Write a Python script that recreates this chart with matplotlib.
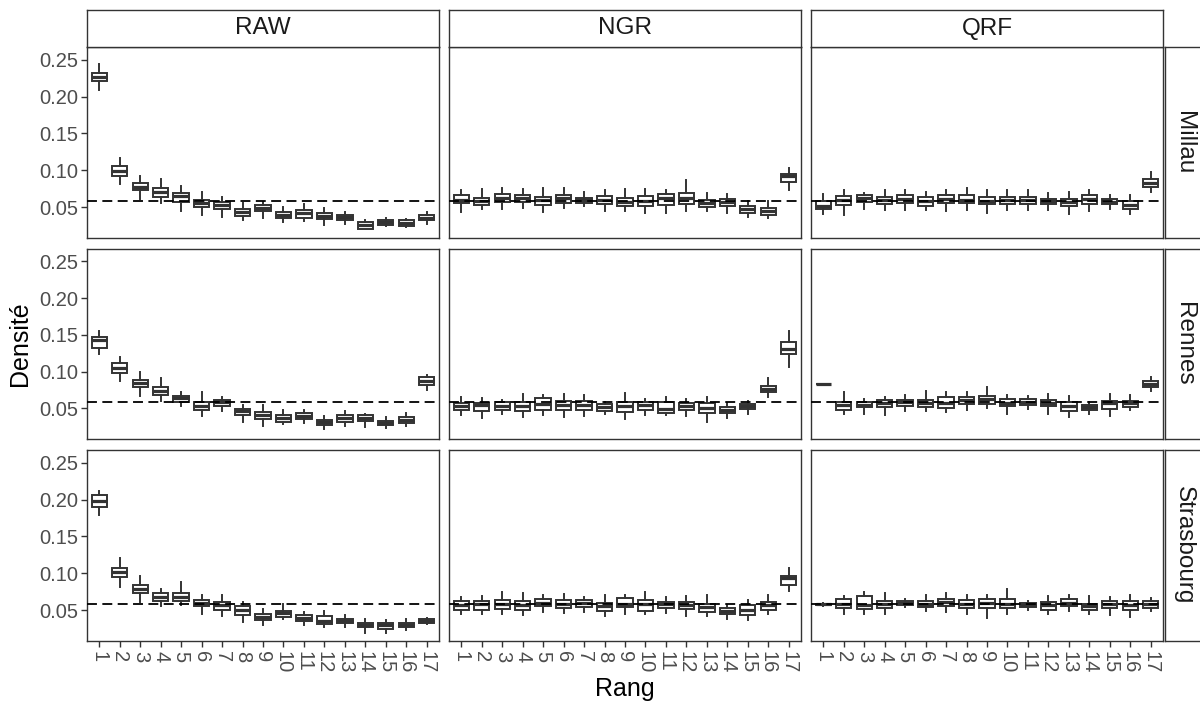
import matplotlib
matplotlib.use("Agg")
import matplotlib.pyplot as plt

plt.rcParams['font.family'] = ['Liberation Sans', 'DejaVu Sans']

methods = ["RAW", "NGR", "QRF"]
stations = ["Millau", "Rennes", "Strasbourg"]
ranks = [str(i) for i in range(1, 18)]
ref_line = 1 / 17
y_ticks = [0.05, 0.10, 0.15, 0.20, 0.25]

# each entry: (whisker_low, q1, median, q3, whisker_high)
millau_raw = [
    (0.2085, 0.221, 0.226, 0.2315, 0.244), (0.0821, 0.092, 0.0992, 0.1064, 0.1168),
    (0.0617, 0.073, 0.078, 0.083, 0.0929), (0.0559, 0.0644, 0.0712, 0.0766, 0.0884),
    (0.0446, 0.0577, 0.0649, 0.0694, 0.0784), (0.0396, 0.050, 0.0559, 0.0599, 0.0703),
    (0.0374, 0.0477, 0.0532, 0.0572, 0.064), (0.0328, 0.0378, 0.0437, 0.0477, 0.0559),
    (0.0356, 0.045, 0.0491, 0.0532, 0.0577), (0.0297, 0.036, 0.040, 0.0437, 0.0505),
    (0.032, 0.036, 0.0419, 0.046, 0.0545), (0.026, 0.0342, 0.0387, 0.0428, 0.0491),
    (0.0279, 0.0328, 0.0365, 0.040, 0.0432), (0.0202, 0.0211, 0.0261, 0.0297, 0.0333),
    (0.0247, 0.0265, 0.0301, 0.0333, 0.036), (0.0234, 0.0252, 0.0288, 0.0324, 0.0347),
    (0.0274, 0.0324, 0.0356, 0.0392, 0.0441)]
millau_ngr = [
    (0.0437, 0.0554, 0.0604, 0.0667, 0.073), (0.0473, 0.0527, 0.0586, 0.0631, 0.0753),
    (0.0473, 0.0572, 0.0631, 0.0676, 0.0762), (0.0491, 0.0577, 0.0622, 0.0663, 0.0748),
    (0.0437, 0.0532, 0.0595, 0.064, 0.0762), (0.0491, 0.0563, 0.0622, 0.0663, 0.0762),
    (0.0523, 0.0559, 0.0595, 0.0631, 0.0703), (0.0446, 0.0545, 0.0599, 0.0654, 0.073),
    (0.0446, 0.0518, 0.0577, 0.0631, 0.0753), (0.0423, 0.0514, 0.0586, 0.0649, 0.0748),
    (0.0423, 0.0532, 0.0622, 0.0685, 0.073), (0.0446, 0.0545, 0.0631, 0.069, 0.0875),
    (0.0446, 0.0505, 0.0559, 0.0604, 0.0694), (0.0428, 0.0518, 0.0568, 0.0617, 0.0685),
    (0.0374, 0.0428, 0.0477, 0.0523, 0.0586), (0.0356, 0.040, 0.0446, 0.0491, 0.0586),
    (0.073, 0.0839, 0.092, 0.0951, 0.1037)]
millau_qrf = [
    (0.041, 0.0473, 0.0523, 0.0581, 0.0685), (0.0396, 0.0536, 0.0599, 0.0658, 0.073),
    (0.0477, 0.0577, 0.0622, 0.0667, 0.0699), (0.0468, 0.0545, 0.0599, 0.064, 0.073),
    (0.0459, 0.0554, 0.0617, 0.0663, 0.073), (0.0459, 0.0523, 0.059, 0.0635, 0.0712),
    (0.0446, 0.0559, 0.0613, 0.0663, 0.0739), (0.0468, 0.0554, 0.0604, 0.0663, 0.0762),
    (0.0423, 0.0541, 0.0581, 0.064, 0.0739), (0.0459, 0.0545, 0.0595, 0.064, 0.073),
    (0.0468, 0.0550, 0.0595, 0.064, 0.073), (0.0459, 0.055, 0.0586, 0.0617, 0.0694),
    (0.041, 0.0523, 0.0568, 0.0617, 0.0703), (0.0446, 0.0545, 0.0613, 0.0667, 0.073),
    (0.0482, 0.0545, 0.0577, 0.0613, 0.0667), (0.0414, 0.0482, 0.0536, 0.0586, 0.0672),
    (0.0703, 0.0771, 0.083, 0.0884, 0.0974)]
rennes_raw = [
    (0.1238, 0.1324, 0.1428, 0.1473, 0.1554), (0.0877, 0.0985, 0.1053, 0.1116, 0.1207),
    (0.0674, 0.0787, 0.0841, 0.089, 0.0999), (0.0597, 0.0678, 0.0732, 0.0787, 0.0913),
    (0.0538, 0.0593, 0.0642, 0.0674, 0.0719), (0.0403, 0.0484, 0.0538, 0.0588, 0.0719),
    (0.0471, 0.0529, 0.0584, 0.062, 0.066), (0.0313, 0.0412, 0.0462, 0.0489, 0.0547),
    (0.0258, 0.0358, 0.0407, 0.0448, 0.0547), (0.029, 0.0313, 0.0367, 0.0416, 0.048),
    (0.0299, 0.0353, 0.0398, 0.0439, 0.0484), (0.0218, 0.0277, 0.0313, 0.035, 0.0394),
    (0.0267, 0.0322, 0.0367, 0.0407, 0.0471), (0.0254, 0.0331, 0.0375, 0.0412, 0.0425),
    (0.0232, 0.0277, 0.0308, 0.0335, 0.0389), (0.0267, 0.0304, 0.0344, 0.038, 0.0439),
    (0.075, 0.0814, 0.0877, 0.0931, 0.0958)]
rennes_ngr = [
    (0.0417, 0.048, 0.0534, 0.0579, 0.066), (0.0371, 0.0471, 0.0543, 0.0574, 0.0642),
    (0.0425, 0.0484, 0.0538, 0.0584, 0.0615), (0.0389, 0.0471, 0.0534, 0.0588, 0.0692),
    (0.0412, 0.0484, 0.0561, 0.0642, 0.0683), (0.0389, 0.048, 0.0552, 0.0606, 0.0692),
    (0.0403, 0.0484, 0.0543, 0.0606, 0.0687), (0.0425, 0.0471, 0.0525, 0.0561, 0.0584),
    (0.0362, 0.0457, 0.0529, 0.0584, 0.0705), (0.0412, 0.0484, 0.0547, 0.0588, 0.0624),
    (0.0417, 0.0439, 0.0493, 0.0588, 0.0651), (0.0398, 0.048, 0.0538, 0.0579, 0.0633),
    (0.0322, 0.0435, 0.0502, 0.0579, 0.0651), (0.0367, 0.0435, 0.0484, 0.0525, 0.0579),
    (0.0425, 0.0493, 0.0538, 0.0561, 0.0602), (0.0651, 0.0719, 0.076, 0.0809, 0.0918),
    (0.1058, 0.1247, 0.1306, 0.141, 0.1554)]
rennes_qrf = [
    (0.0826, 0.0828, 0.0832, 0.0836, 0.0838), (0.0425, 0.0484, 0.0543, 0.0588, 0.0719),
    (0.0421, 0.0516, 0.0552, 0.0588, 0.0629), (0.0417, 0.0525, 0.057, 0.0615, 0.0651),
    (0.0462, 0.0534, 0.0584, 0.0615, 0.0683), (0.0462, 0.0525, 0.0575, 0.062, 0.074),
    (0.0448, 0.0507, 0.0579, 0.066, 0.0719), (0.0484, 0.0561, 0.0615, 0.066, 0.0728),
    (0.0502, 0.0561, 0.0629, 0.0674, 0.0787), (0.0425, 0.0529, 0.0575, 0.0624, 0.0687),
    (0.0493, 0.0552, 0.0588, 0.0624, 0.0674), (0.0425, 0.0529, 0.0579, 0.062, 0.0696),
    (0.0389, 0.047, 0.0534, 0.0584, 0.0674), (0.043, 0.048, 0.0516, 0.0552, 0.0588),
    (0.0403, 0.0493, 0.0575, 0.0606, 0.0696), (0.048, 0.0516, 0.0579, 0.0606, 0.0687),
    (0.0742, 0.0796, 0.0836, 0.0877, 0.0931)]
strasbourg_raw = [
    (0.1789, 0.1893, 0.1978, 0.2059, 0.2114), (0.0818, 0.0954, 0.1021, 0.1071, 0.1211),
    (0.0611, 0.0728, 0.0791, 0.0845, 0.0967), (0.0557, 0.062, 0.0678, 0.0728, 0.0791),
    (0.0566, 0.0624, 0.0678, 0.0728, 0.0881), (0.0457, 0.0552, 0.0597, 0.0642, 0.071),
    (0.0421, 0.0511, 0.057, 0.0611, 0.0714), (0.0344, 0.0439, 0.0502, 0.0557, 0.0611),
    (0.0308, 0.0371, 0.0412, 0.0448, 0.052), (0.0389, 0.0412, 0.0462, 0.0493, 0.0579),
    (0.0304, 0.0358, 0.0398, 0.0439, 0.0479), (0.0272, 0.031, 0.0358, 0.043, 0.0489),
    (0.0276, 0.0322, 0.0358, 0.0389, 0.0439), (0.020, 0.0268, 0.0304, 0.0335, 0.0376),
    (0.020, 0.025, 0.0295, 0.0331, 0.0371), (0.0236, 0.0268, 0.0308, 0.0331, 0.0376),
    (0.0313, 0.0326, 0.0353, 0.0376, 0.0403)]
strasbourg_ngr = [
    (0.0444, 0.0502, 0.057, 0.0624, 0.0683), (0.0444, 0.0511, 0.0579, 0.0633, 0.070),
    (0.0444, 0.052, 0.0579, 0.0638, 0.075), (0.0431, 0.0511, 0.057, 0.0633, 0.0737),
    (0.0471, 0.0561, 0.0606, 0.066, 0.0705), (0.0466, 0.0534, 0.0588, 0.0638, 0.0723),
    (0.048, 0.0547, 0.0597, 0.0638, 0.0683), (0.0417, 0.0489, 0.0557, 0.0606, 0.0714),
    (0.0444, 0.0543, 0.0588, 0.0669, 0.0714), (0.0444, 0.0489, 0.0579, 0.0642, 0.075),
    (0.0466, 0.0534, 0.0579, 0.0615, 0.0683), (0.0421, 0.052, 0.057, 0.0615, 0.0692),
    (0.0421, 0.0484, 0.0547, 0.0588, 0.0714), (0.0389, 0.0453, 0.0489, 0.0525, 0.057),
    (0.0367, 0.0435, 0.0498, 0.057, 0.0642), (0.0453, 0.0511, 0.057, 0.0615, 0.0714),
    (0.076, 0.084, 0.0931, 0.0967, 0.1067)]
strasbourg_qrf = [
    (0.0561, 0.0566, 0.0579, 0.0588, 0.0597), (0.0444, 0.0534, 0.0588, 0.0656, 0.070),
    (0.0453, 0.052, 0.057, 0.0692, 0.075), (0.0444, 0.0525, 0.0579, 0.0624, 0.0737),
    (0.0547, 0.0566, 0.0597, 0.062, 0.0647), (0.0489, 0.0543, 0.0588, 0.0633, 0.0705),
    (0.048, 0.0561, 0.0615, 0.066, 0.0737), (0.0444, 0.0534, 0.0579, 0.0642, 0.0705),
    (0.0398, 0.0525, 0.0597, 0.0656, 0.071), (0.0453, 0.0534, 0.0588, 0.0647, 0.0791),
    (0.0507, 0.0543, 0.0575, 0.0606, 0.0624), (0.0453, 0.0502, 0.0575, 0.0611, 0.0692),
    (0.0489, 0.0557, 0.0606, 0.0647, 0.0714), (0.0444, 0.0507, 0.0557, 0.0588, 0.0692),
    (0.0435, 0.0525, 0.0588, 0.0624, 0.0678), (0.0412, 0.0502, 0.057, 0.0633, 0.0705),
    (0.0489, 0.0534, 0.0588, 0.0633, 0.0669)]

panels = {
    ("Millau", "RAW"): millau_raw, ("Millau", "NGR"): millau_ngr, ("Millau", "QRF"): millau_qrf,
    ("Rennes", "RAW"): rennes_raw, ("Rennes", "NGR"): rennes_ngr, ("Rennes", "QRF"): rennes_qrf,
    ("Strasbourg", "RAW"): strasbourg_raw, ("Strasbourg", "NGR"): strasbourg_ngr,
    ("Strasbourg", "QRF"): strasbourg_qrf,
}

W, H = 1200, 702
fig = plt.figure(figsize=(W / 100, H / 100), dpi=100)

col_x = [(87, 439), (449, 801), (811, 1163)]
row_y = [(47, 238), (249, 439), (450, 641)]
edge = "#333333"
tick_color = "#4d4d4d"

def px_axes(x0, y0, x1, y1):
    return fig.add_axes([x0 / W, 1 - y1 / H, (x1 - x0) / W, (y1 - y0) / H])

for r, st in enumerate(stations):
    for c, m in enumerate(methods):
        x0, x1 = col_x[c]
        y0, y1 = row_y[r]
        ax = px_axes(x0, y0, x1, y1)
        data = panels[(st, m)]
        stats = [dict(whislo=d[0], q1=d[1], med=d[2], q3=d[3], whishi=d[4], label=lab)
                 for d, lab in zip(data, ranks)]
        ax.bxp(stats, positions=range(1, 18), widths=0.75, showfliers=False,
               showcaps=False, patch_artist=True,
               boxprops=dict(facecolor="white", edgecolor=edge, linewidth=1.4),
               whiskerprops=dict(color=edge, linewidth=1.4),
               medianprops=dict(color=edge, linewidth=2.3, solid_capstyle="butt"))
        ax.axhline(ref_line, color="black", linewidth=1.3, linestyle=(0, (5.5, 3)), zorder=5)
        ax.set_xlim(0.4, 17.6)
        ax.set_ylim(0.0085, 0.267)
        for s in ax.spines.values():
            s.set_color(edge)
            s.set_linewidth(1.0)
        ax.set_yticks(y_ticks)
        ax.set_xticks(range(1, 18))
        if c == 0:
            ax.set_yticklabels([f"{v:.2f}" for v in y_ticks], fontsize=14.5, color=tick_color)
            ax.tick_params(axis="y", length=4, width=1, color=edge, pad=2)
        else:
            ax.tick_params(axis="y", length=0)
            ax.set_yticklabels([])
        if r == 2:
            ax.set_xticklabels(ranks, rotation=270, fontsize=14.5, color=tick_color,
                               va="top", ha="center")
            ax.tick_params(axis="x", length=4, width=1, color=edge, pad=3)
        else:
            ax.tick_params(axis="x", length=0)
            ax.set_xticklabels([])
        ax.set_facecolor("white")

# top strips
for c, m in enumerate(methods):
    x0, x1 = col_x[c]
    sax = px_axes(x0, 10, x1, 47)
    sax.set_xticks([]); sax.set_yticks([])
    for s in sax.spines.values():
        s.set_color(edge); s.set_linewidth(1.0)
    sax.text(0.5, 0.5, m, ha="center", va="center", fontsize=17.5, color="#1a1a1a",
             transform=sax.transAxes)

# right strips
for r, st in enumerate(stations):
    y0, y1 = row_y[r]
    sax = px_axes(1165, y0, 1203, y1)
    sax.set_xticks([]); sax.set_yticks([])
    for s in sax.spines.values():
        s.set_color(edge); s.set_linewidth(1.0)
    sax.text(0.5, 0.5, st, ha="center", va="center", fontsize=17.5, color="#1a1a1a",
             rotation=270, transform=sax.transAxes)

fig.text(20 / W, 1 - 344 / H, "Densité", rotation=90, ha="center", va="center",
         fontsize=18, color="black")
fig.text(625 / W, 1 - 689 / H, "Rang", ha="center", va="center", fontsize=18, color="black")

fig.savefig("out.png", dpi=100, facecolor="white")
